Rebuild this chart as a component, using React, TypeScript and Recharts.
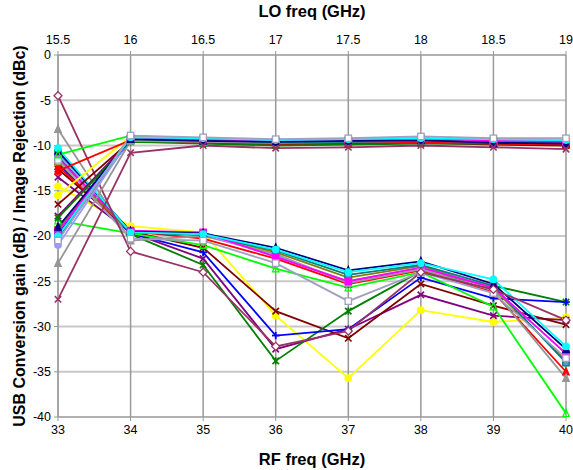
import React from 'react';
import { LineChart, Line, XAxis, YAxis, CartesianGrid } from 'recharts';

const rfFreq = [33, 34, 35, 36, 37, 38, 39, 40];
const loFreq = [15.5, 16, 16.5, 17, 17.5, 18, 18.5, 19];
const yTicks = [0, -5, -10, -15, -20, -25, -30, -35, -40];

// Conversion gain (upper group) and image rejection (lower group) per measurement
const mauveGain = [-27, -10.8, -10.0, -10.3, -10.2, -10.0, -10.2, -10.4];
const mauveRej = [-4.5, -21.7, -24.0, -32.2, -30.5, -24.0, -25.9, -29.3];
const grayGain = [-23, -9.5, -9.6, -9.7, -9.6, -9.5, -9.6, -9.7];
const grayRej = [-8.2, -20.5, -20.0, -22.0, -25.2, -23.7, -26.0, -35.7];
const limeGain = [-11, -8.9, -9.3, -9.5, -9.5, -9.3, -9.6, -9.6];
const limeRej = [-18.3, -19.7, -21.0, -23.6, -25.7, -24.0, -27.8, -39.6];
const yellowGain = [-15.5, -9.0, -9.4, -9.7, -9.6, -9.5, -9.8, -10.0];
const yellowRej = [-14.5, -18.9, -19.6, -28.8, -35.7, -28.2, -29.5, -29.0];
const purpleGain = [-17.8, -9.4, -9.6, -9.8, -9.7, -9.6, -9.8, -9.9];
const purpleRej = [-13.5, -19.6, -22.5, -32.5, -30.3, -26.5, -28.8, -29.3];
const maroonGain = [-16.5, -9.5, -9.7, -9.9, -9.8, -9.7, -9.9, -10.0];
const maroonRej = [-12.6, -19.5, -21.3, -28.3, -31.3, -25.3, -27.7, -29.8];
const darkGreenGain = [-18, -9.6, -9.8, -10.0, -9.9, -9.8, -9.8, -9.7];
const darkGreenRej = [-11.2, -19.8, -23.2, -33.8, -28.3, -23.9, -25.5, -27.3];
const blueGain = [-19.8, -9.4, -9.5, -9.7, -9.6, -9.5, -9.7, -9.8];
const blueRej = [-12, -19.7, -21.8, -31.0, -30.3, -24.6, -26.9, -27.3];
const redGain = [-12.8, -9.4, -9.6, -9.8, -9.7, -9.6, -9.8, -9.9];
const redRej = [-12.3, -19.5, -20.3, -22.5, -25.3, -23.8, -26.2, -35.0];
const navyGain = [-19, -9.3, -9.5, -9.6, -9.5, -9.4, -9.7, -9.8];
const navyRej = [-10.6, -19.5, -19.7, -21.3, -23.8, -22.8, -25.3, -32.5];
const magentaGain = [-19.5, -9.2, -9.3, -9.5, -9.4, -9.2, -9.5, -9.6];
const magentaRej = [-11.5, -19.4, -19.6, -22.3, -25.0, -23.5, -25.7, -33.0];
const cyanGain = [-20, -9.1, -9.2, -9.4, -9.3, -9.2, -9.3, -9.4];
const cyanRej = [-10.3, -19.6, -19.8, -21.5, -24.0, -23.0, -24.8, -32.2];
const tealGain = [-20.3, -9.3, -9.4, -9.6, -9.6, -9.5, -9.6, -9.7];
const tealRej = [-10.8, -19.6, -19.9, -21.6, -24.3, -23.2, -25.5, -34.0];
const lightPurpleGain = [-21, -9.2, -9.3, -9.5, -9.4, -9.3, -9.4, -9.5];
const lightPurpleRej = [-11, -19.5, -19.8, -22.2, -25.0, -23.5, -25.7, -33.0];
const oliveGain = [-19.3, -9.3, -9.4, -9.6, -9.5, -9.4, -9.6, -9.7];
const oliveRej = [-11.8, -19.6, -19.8, -21.8, -24.6, -23.3, -25.8, -33.8];
const lightGrayGain = [-20.5, -8.9, -9.1, -9.3, -9.2, -9.0, -9.2, -9.2];
const lightGrayRej = [-11.6, -20.3, -20.5, -23.0, -27.2, -24.0, -26.3, -33.5];

type Shape = 'diamond' | 'square' | 'triangle' | 'x' | 'star' | 'circle' | 'plus';

const seriesList: { id: string; color: string; shape: Shape; fill: string; gain: number[]; rej: number[] }[] = [
  { id: 'yellow', color: '#FFFF00', shape: 'circle', fill: '#FFFF00', gain: yellowGain, rej: yellowRej },
  { id: 'purple', color: '#800080', shape: 'x', fill: 'none', gain: purpleGain, rej: purpleRej },
  { id: 'maroon', color: '#800000', shape: 'x', fill: 'none', gain: maroonGain, rej: maroonRej },
  { id: 'darkGreen', color: '#008000', shape: 'star', fill: 'none', gain: darkGreenGain, rej: darkGreenRej },
  { id: 'blue', color: '#0000FF', shape: 'plus', fill: 'none', gain: blueGain, rej: blueRej },
  { id: 'red', color: '#FF0000', shape: 'triangle', fill: '#FF0000', gain: redGain, rej: redRej },
  { id: 'lime', color: '#00FF00', shape: 'triangle', fill: 'none', gain: limeGain, rej: limeRej },
  { id: 'gray', color: '#969696', shape: 'triangle', fill: '#969696', gain: grayGain, rej: grayRej },
  { id: 'olive', color: '#808000', shape: 'square', fill: '#FFFFFF', gain: oliveGain, rej: oliveRej },
  { id: 'teal', color: '#008080', shape: 'square', fill: '#5B9BD5', gain: tealGain, rej: tealRej },
  { id: 'lightPurple', color: '#9999FF', shape: 'circle', fill: '#9999FF', gain: lightPurpleGain, rej: lightPurpleRej },
  { id: 'magenta', color: '#FF00FF', shape: 'square', fill: '#FF00FF', gain: magentaGain, rej: magentaRej },
  { id: 'navy', color: '#000080', shape: 'triangle', fill: '#000080', gain: navyGain, rej: navyRej },
  { id: 'cyan', color: '#00FFFF', shape: 'circle', fill: '#00FFFF', gain: cyanGain, rej: cyanRej },
  { id: 'lightGray', color: '#A0A0C0', shape: 'square', fill: '#FFFFFF', gain: lightGrayGain, rej: lightGrayRej },
  { id: 'mauve', color: '#993366', shape: 'x', fill: 'none', gain: mauveGain, rej: mauveRej },
];

const data = rfFreq.map((rf, i) => {
  const row: Record<string, number> = { rf, lo: loFreq[i] };
  seriesList.forEach((s) => {
    row[s.id + '_g'] = s.gain[i];
    row[s.id + '_r'] = s.rej[i];
  });
  return row;
});

const makeDot = (shape: Shape, color: string, fill: string, mauveRejDiamond = false) => (props: any) => {
  const { cx, cy, index } = props;
  if (cx == null || cy == null) return <g key={index} />;
  const r = 3.2;
  const sw = 1.3;
  const k = `${index}`;
  const s: Shape = mauveRejDiamond ? 'diamond' : shape;
  switch (s) {
    case 'diamond':
      return <polygon key={k} points={`${cx},${cy - 4} ${cx + 4},${cy} ${cx},${cy + 4} ${cx - 4},${cy}`} fill="#FFFFFF" stroke={color} strokeWidth={sw} />;
    case 'square':
      return <rect key={k} x={cx - r} y={cy - r} width={2 * r} height={2 * r} fill={fill} stroke={color} strokeWidth={sw} />;
    case 'triangle':
      return <polygon key={k} points={`${cx},${cy - r - 0.8} ${cx + r},${cy + r} ${cx - r},${cy + r}`} fill={fill} stroke={color} strokeWidth={sw} />;
    case 'x':
      return (
        <g key={k} stroke={color} strokeWidth={1.6}>
          <line x1={cx - r} y1={cy - r} x2={cx + r} y2={cy + r} />
          <line x1={cx - r} y1={cy + r} x2={cx + r} y2={cy - r} />
        </g>
      );
    case 'star':
      return (
        <g key={k} stroke={color} strokeWidth={1.6}>
          <line x1={cx - r} y1={cy - r} x2={cx + r} y2={cy + r} />
          <line x1={cx - r} y1={cy + r} x2={cx + r} y2={cy - r} />
          <line x1={cx} y1={cy - r - 0.5} x2={cx} y2={cy + r + 0.5} />
        </g>
      );
    case 'plus':
      return (
        <g key={k} stroke={color} strokeWidth={1.8}>
          <line x1={cx - r - 0.5} y1={cy} x2={cx + r + 0.5} y2={cy} />
          <line x1={cx} y1={cy - r - 0.5} x2={cx} y2={cy + r + 0.5} />
        </g>
      );
    default:
      return <circle key={k} cx={cx} cy={cy} r={r} fill={fill} stroke={color} strokeWidth={sw} />;
  }
};

const font = '"Liberation Sans", Arial, sans-serif';

const YTitle = (props: any) => {
  const vb = props.viewBox || { x: 0, y: 0, width: 0, height: 0 };
  const x = vb.x + 19;
  const y = vb.y + vb.height / 2;
  return (
    <text x={x} y={y} transform={`rotate(-90, ${x}, ${y})`} textAnchor="middle" dominantBaseline="central" fontFamily={font} fontWeight="bold" fontSize={16} fill="#000">
      USB Conversion gain (dB) / Image Rejection (dBc)
    </text>
  );
};

export default function App() {
  const tick = { fontSize: 12.5, fill: '#000', fontFamily: font };
  return (
    <div style={{ position: 'absolute', left: 0, top: 0, width: 573, height: 470, background: '#fff' }}>
      <LineChart width={573} height={470} data={data} margin={{ top: 0, right: 7, bottom: 0, left: 0 }}>
        <CartesianGrid xAxisId="bottom" vertical={false} stroke="#C8C8C8" strokeWidth={2} />
        <CartesianGrid xAxisId="bottom" horizontal={false} stroke="#999999" strokeWidth={1.5} />
        <XAxis
          xAxisId="bottom"
          type="number"
          dataKey="rf"
          domain={[33, 40]}
          ticks={rfFreq}
          height={53}
          tickSize={4}
          tickMargin={4}
          stroke="#999999"
          tick={tick}
          label={{ value: 'RF freq (GHz)', position: 'insideBottom', offset: 5, style: { fontFamily: font, fontWeight: 'bold', fontSize: 16.5, fill: '#000' } }}
        />
        <XAxis
          xAxisId="top"
          orientation="top"
          type="number"
          dataKey="lo"
          domain={[15.5, 19]}
          ticks={loFreq}
          height={55}
          tickSize={4}
          tickMargin={7}
          stroke="#999999"
          tick={tick}
          label={{ value: 'LO freq (GHz)', position: 'insideTop', offset: 5, style: { fontFamily: font, fontWeight: 'bold', fontSize: 16.5, fill: '#000' } }}
        />
        <YAxis
          type="number"
          domain={[-40, 0]}
          ticks={yTicks}
          width={58}
          tickSize={4}
          tickMargin={3}
          stroke="#999999"
          tick={tick}
          allowDataOverflow
          label={<YTitle />}
        />
        <Line xAxisId="top" dataKey="lightGray_g" stroke="none" dot={false} isAnimationActive={false} legendType="none" />
        {seriesList.map((s) => (
          <Line
            key={s.id + '_r'}
            xAxisId="bottom"
            type="linear"
            dataKey={s.id + '_r'}
            stroke={s.color}
            strokeWidth={1.8}
            dot={makeDot(s.shape, s.color, s.fill, s.id === 'mauve')}
            isAnimationActive={false}
          />
        ))}
        {seriesList.map((s) => (
          <Line
            key={s.id + '_g'}
            xAxisId="bottom"
            type="linear"
            dataKey={s.id + '_g'}
            stroke={s.color}
            strokeWidth={1.8}
            dot={makeDot(s.shape, s.color, s.fill)}
            isAnimationActive={false}
          />
        ))}
      </LineChart>
    </div>
  );
}
